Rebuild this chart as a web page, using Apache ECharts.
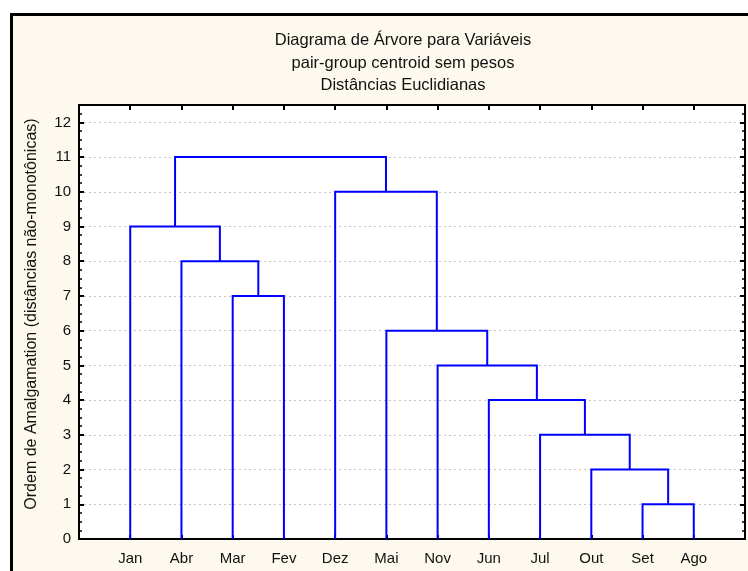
<!DOCTYPE html>
<html>
<head>
<meta charset="utf-8">
<script src="https://cdn.jsdelivr.net/npm/echarts@6/dist/echarts.min.js"></script>
<style>
  html, body { margin: 0; padding: 0; background: #fff; }
  #chart { width: 748px; height: 571px; }
</style>
</head>
<body>
<div id="chart"></div>
<script>
// Leaf order along the horizontal axis
const leaves = ['Jan', 'Abr', 'Mar', 'Fev', 'Dez', 'Mai', 'Nov', 'Jun', 'Jul', 'Out', 'Set', 'Ago'];

// Amalgamation steps: members joined (leaf index 0..11, or 12+k for the cluster made at step k)
const mergeA = [10, 9, 8, 7, 6, 5, 2, 1, 0, 4, 20];
const mergeB = [11, 12, 13, 14, 15, 16, 3, 18, 19, 17, 21];
// Amalgamation order (height) of each step
const mergeHeight = [1, 2, 3, 4, 5, 6, 7, 8, 9, 10, 11];

// Vertical axis ticks
const yTicks = [0, 1, 2, 3, 4, 5, 6, 7, 8, 9, 10, 11, 12];

const titleLines = ['Diagrama de Árvore para Variáveis', 'pair-group centroid sem pesos', 'Distâncias Euclidianas'];
const yName = 'Ordem de Amalgamation (distâncias não-monotônicas)';

// Position and height of every node of the tree
const nodeX = leaves.map((_, i) => i + 1);
const nodeH = leaves.map(() => 0);
const links = [];
mergeA.forEach((a, k) => {
  const b = mergeB[k];
  const h = mergeHeight[k];
  links.push([nodeX[a], nodeH[a], nodeX[b], nodeH[b], h]);
  nodeX.push((nodeX[a] + nodeX[b]) / 2);
  nodeH.push(h);
});

const FONT = "'Liberation Sans', Arial, sans-serif";
const chart = echarts.init(document.getElementById('chart'), null, { renderer: 'canvas' });

const valueLabel = (v) => (yTicks.indexOf(v) >= 0 ? String(v) : '');
const yMax = yTicks[yTicks.length - 1] + 0.5;

const titleY = [40, 63, 85];
const titleText = titleLines.map((t, i) => ({
  type: 'text', silent: true, x: 403, y: titleY[i],
  style: { text: t, fill: '#111', font: '16.5px ' + FONT, textAlign: 'center', textVerticalAlign: 'middle' }
}));

chart.setOption({
  backgroundColor: '#ffffff',
  animation: false,
  textStyle: { fontFamily: FONT },
  graphic: [
    {
      type: 'rect', z: -100, silent: true,
      shape: { x: 11.5, y: 14.5, width: 760, height: 580 },
      style: { fill: '#fdf9ee', stroke: '#000', lineWidth: 3 }
    },
    ...titleText,
    {
      type: 'text', silent: true,
      x: 32, y: 314, rotation: Math.PI / 2,
      style: { text: yName, fill: '#111', font: '16px ' + FONT, textAlign: 'center', textVerticalAlign: 'middle' }
    }
  ],
  grid: {
    left: 79, top: 105, right: 3, bottom: 32,
    show: true, backgroundColor: '#ffffff', borderWidth: 0
  },
  xAxis: [
    {
      type: 'value', position: 'bottom', min: 0, max: leaves.length + 1, interval: 1,
      axisLine: { show: true, onZero: false, lineStyle: { color: '#000', width: 2 } },
      axisTick: { show: true, inside: true, length: 4, lineStyle: { color: '#000', width: 2 } },
      axisLabel: {
        color: '#111', fontSize: 15, fontFamily: FONT, margin: 12,
        formatter: (v) => leaves[v - 1] || ''
      },
      splitLine: { show: false }
    },
    {
      type: 'value', position: 'top', min: 0, max: leaves.length + 1, interval: 1,
      axisLine: { show: true, onZero: false, lineStyle: { color: '#000', width: 2 } },
      axisTick: { show: true, inside: true, length: 5, lineStyle: { color: '#000', width: 2 } },
      axisLabel: { show: false },
      splitLine: { show: false }
    }
  ],
  yAxis: [
    {
      type: 'value', position: 'left', min: 0, max: yMax, interval: 1,
      axisLine: { show: true, onZero: false, lineStyle: { color: '#000', width: 2 } },
      axisTick: { show: true, inside: true, length: 5, lineStyle: { color: '#000', width: 2 } },
      minorTick: { show: true, splitNumber: 4, length: 3, lineStyle: { color: '#000', width: 1.5 } },
      axisLabel: { color: '#111', fontSize: 15, fontFamily: FONT, margin: 8, formatter: valueLabel },
      splitLine: { show: true, lineStyle: { color: '#c4c4c4', width: 1, type: [2, 3] } }
    },
    {
      type: 'value', position: 'right', min: 0, max: yMax, interval: 1,
      axisLine: { show: true, onZero: false, lineStyle: { color: '#000', width: 2 } },
      axisTick: { show: true, inside: true, length: 5, lineStyle: { color: '#000', width: 2 } },
      minorTick: { show: true, splitNumber: 4, length: 3, lineStyle: { color: '#000', width: 1.5 } },
      axisLabel: { show: false },
      splitLine: { show: false }
    }
  ],
  series: [
    {
      type: 'custom',
      xAxisIndex: 0, yAxisIndex: 0,
      clip: false,
      data: links,
      renderItem: (params, api) => {
        const xa = api.value(0), ha = api.value(1), xb = api.value(2), hb = api.value(3), h = api.value(4);
        const pts = [
          api.coord([xa, ha]), api.coord([xa, h]),
          api.coord([xb, h]), api.coord([xb, hb])
        ];
        return {
          type: 'polyline',
          shape: { points: pts },
          style: { stroke: '#0000ff', lineWidth: 2, fill: null }
        };
      }
    }
  ]
});
</script>
</body>
</html>
